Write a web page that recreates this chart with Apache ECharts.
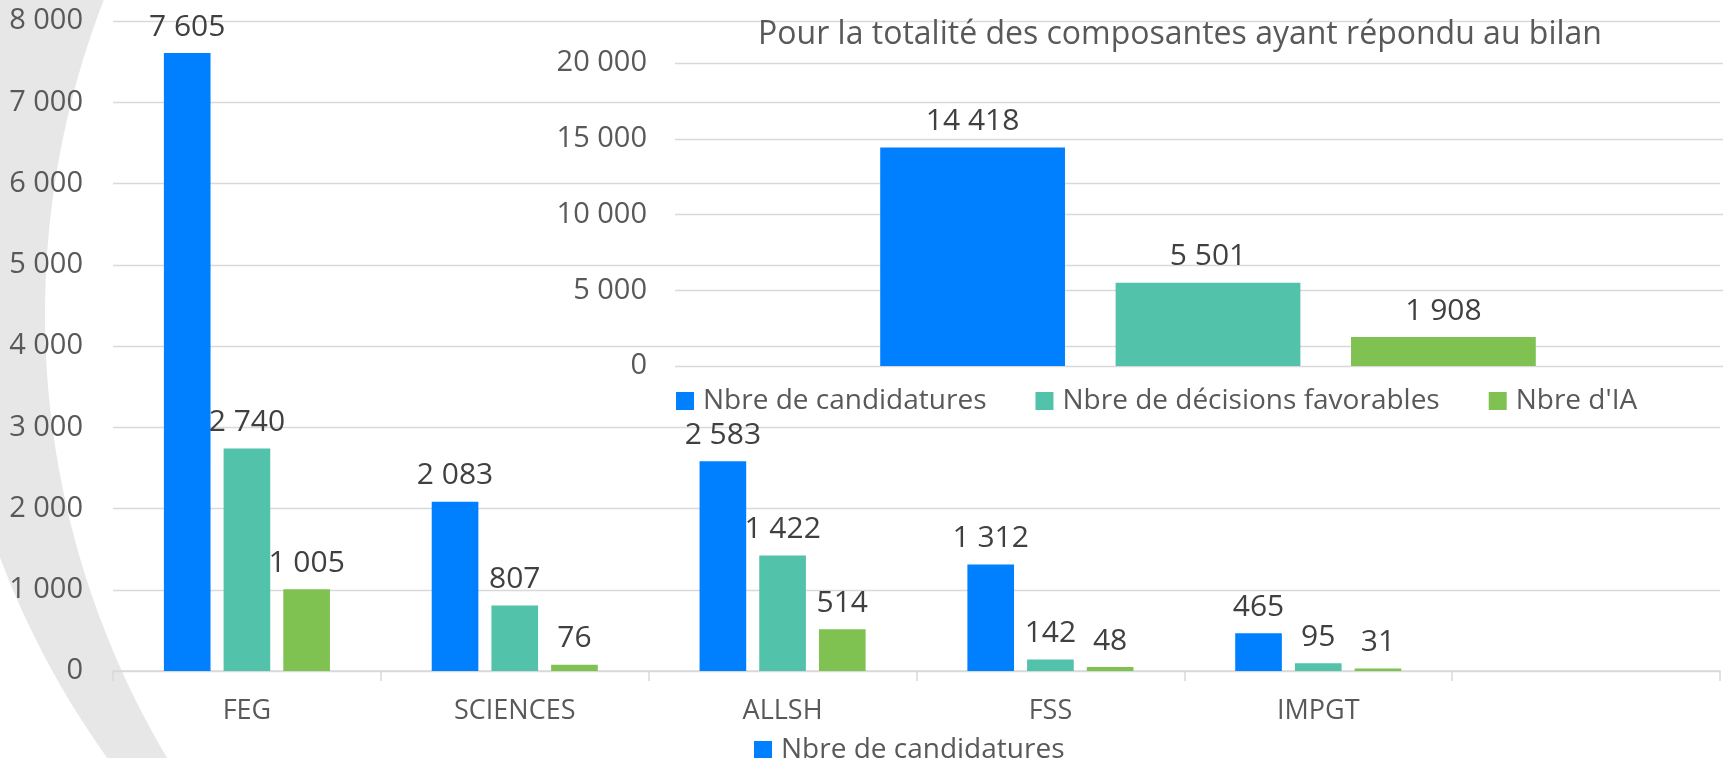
<!DOCTYPE html>
<html>
<head>
<meta charset="utf-8">
<script src="https://cdn.jsdelivr.net/npm/echarts@6/dist/echarts.min.js"></script>
<style>html,body{margin:0;padding:0;background:#fff}#c{width:1723px;height:758px}</style>
</head>
<body>
<div id="c"></div>
<script>
// ---- data ----
const categories = ['FEG', 'SCIENCES', 'ALLSH', 'FSS', 'IMPGT', ''];
const seriesNames = ['Nbre de candidatures', 'Nbre de décisions favorables', "Nbre d'IA"];
const candidatures = [7605, 2083, 2583, 1312, 465, null];
const decisionsFavorables = [2740, 807, 1422, 142, 95, null];
const nbreIA = [1005, 76, 514, 48, 31, null];
const totalCategories = [''];
const totalCandidatures = [14418];
const totalDecisions = [5501];
const totalIA = [1908];
const insetTitle = 'Pour la totalité des composantes ayant répondu au bilan';
const mainYTicks = { min: 0, max: 8000, interval: 1000 };
const insetYTicks = { min: 0, max: 20000, interval: 5000 };

const colors = ['#0080ff', '#52c2aa', '#7fc251'];
const FONT = 'Open Sans';
const fmt = v => (v == null ? '' : String(v).replace(/\B(?=(\d{3})+(?!\d))/g, ' '));

// decorative background crescent (two circle arcs)
function arcLeft(cx, cy, r, y0, y1, steps) {
  const pts = [];
  for (let k = 0; k <= steps; k++) {
    const y = y0 + (y1 - y0) * k / steps;
    const dx = Math.sqrt(Math.max(0, r * r - (y - cy) * (y - cy)));
    pts.push([cx - dx, y]);
  }
  return pts;
}
const crescent = arcLeft(913, 314, 868, 0, 758, 80).concat(arcLeft(816, 250, 872, 758, 0, 80));

const chart = echarts.init(document.getElementById('c'));
const labelStyle = {
  show: true, position: 'top', distance: 11,
  fontFamily: FONT, fontSize: 30, color: '#404040',
  formatter: p => fmt(p.value)
};
const mainData = [candidatures, decisionsFavorables, nbreIA];
const insetData = [totalCandidatures, totalDecisions, totalIA];

const series = [];
mainData.forEach((d, i) => series.push({
  type: 'bar', name: seriesNames[i], data: d, xAxisIndex: 0, yAxisIndex: 0,
  itemStyle: { color: colors[i] }, barGap: '28%', barCategoryGap: '38%',
  label: labelStyle
}));
insetData.forEach((d, i) => series.push({
  type: 'bar', name: seriesNames[i], data: d, xAxisIndex: 1, yAxisIndex: 1,
  itemStyle: { color: colors[i] }, barGap: '27.4%', barCategoryGap: '38.5%',
  label: labelStyle
}));

const legendText = { fontFamily: FONT, fontSize: 28, color: '#595959', padding: [0, 0, 0, 4] };

chart.setOption({
  animation: false,
  backgroundColor: '#ffffff',
  textStyle: { fontFamily: FONT },
  graphic: [
    {
      type: 'polygon', z: -100, silent: true,
      shape: { points: crescent },
      style: { fill: '#e6e7e6' }
    },
    {
      type: 'text', x: 1180, y: 35, z: 10,
      style: { text: insetTitle, fontFamily: FONT, fontSize: 32, fill: '#595959',
               textAlign: 'center', textVerticalAlign: 'middle' }
    }
  ],
  legend: [
    {
      data: [seriesNames[0]], left: 754, top: 736, padding: 0,
      itemWidth: 18, itemHeight: 18, icon: 'rect', textStyle: legendText
    },
    {
      data: seriesNames, left: 676, top: 387, padding: 0, itemGap: 49,
      itemWidth: 18, itemHeight: 18, icon: 'rect', textStyle: legendText
    }
  ],
  grid: [
    { left: 113, right: 3, top: 21, bottom: 87, containLabel: false, outerBoundsMode: 'none' },
    { left: 675, width: 1066, top: 63, bottom: 392, containLabel: false, outerBoundsMode: 'none' }
  ],
  xAxis: [
    {
      type: 'category', gridIndex: 0, data: categories,
      axisLine: { lineStyle: { color: '#d9d9d9', width: 1.5 } },
      axisTick: { show: true, length: 10, lineStyle: { color: '#d9d9d9', width: 1.5 } },
      axisLabel: { fontFamily: FONT, fontSize: 27, color: '#595959', margin: 27 }
    },
    {
      type: 'category', gridIndex: 1, data: totalCategories,
      axisLine: { show: false }, axisTick: { show: false }, axisLabel: { show: false }
    }
  ],
  yAxis: [
    {
      type: 'value', gridIndex: 0, min: mainYTicks.min, max: mainYTicks.max, interval: mainYTicks.interval,
      axisLine: { show: false }, axisTick: { show: false },
      splitLine: { lineStyle: { color: '#d9d9d9', width: 1.3 } },
      axisLabel: { fontFamily: FONT, fontSize: 29, color: '#595959', margin: 30, formatter: v => fmt(v) }
    },
    {
      type: 'value', gridIndex: 1, min: insetYTicks.min, max: insetYTicks.max, interval: insetYTicks.interval,
      axisLine: { show: false }, axisTick: { show: false },
      splitLine: { lineStyle: { color: '#d9d9d9', width: 1.3 } },
      axisLabel: { fontFamily: FONT, fontSize: 29, color: '#595959', margin: 28, formatter: v => fmt(v) }
    }
  ],
  series: series
});
</script>
</body>
</html>
